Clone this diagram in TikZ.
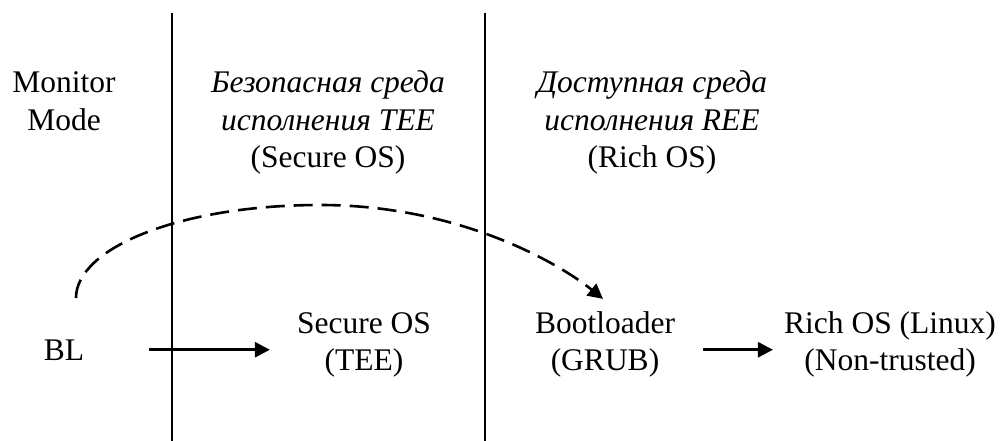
\documentclass[tikz,border=0pt]{standalone}
\usepackage{fontspec}
\setmainfont{Liberation Serif}
\usetikzlibrary{arrows.meta}
\begin{document}
\begin{tikzpicture}[x=1pt,y=-1pt,
  lbl/.style={anchor=base,inner sep=0pt,align=center,font=\fontsize{31.5}{37}\selectfont},
  sep/.style={line width=2pt},
  arr/.style={line width=2.8pt,-{Triangle[length=15pt,width=15pt]}},
  darr/.style={line width=2.6pt,dash pattern=on 19pt off 9pt,-{Triangle[length=15pt,width=15pt]}}]
\useasboundingbox (0,0) rectangle (1003,441);
% separators
\draw[sep] (172,13) -- (172,441);
\draw[sep] (485,13) -- (485,441);
% headers (base = baseline of last line)
\node[lbl] (mon) at (64,130) {Monitor\\Mode};
\node[lbl] (tee) at (328,167) {\itshape Безопасная среда\\\itshape исполнения TEE\\(Secure OS)};
\node[lbl] (ree) at (652,167) {\itshape Доступная среда\\\itshape исполнения REE\\(Rich OS)};
% stages
\node[lbl] (bl) at (64,360) {BL};
\node[lbl] (secos) at (364,370) {Secure OS\\(TEE)};
\node[lbl] (boot) at (605,370) {Bootloader\\(GRUB)};
\node[lbl] (rich) at (890,370) {Rich OS (Linux)\\(Non-trusted)};
% arrows
\draw[arr,shorten <=65pt,shorten >=27pt] (bl.east) -- (secos.west |- bl.east);
\draw[arr,shorten <=28pt,shorten >=11pt] (boot.east |- bl.east) -- (rich.west |- bl.east);
\coordinate (ds) at (76,298);
\draw[darr] (ds) .. controls (76,248) and (180,205) .. (320,205)
  .. controls (460,205) and (560,264) .. ([shift={(-2,-12)}]boot.north);
\end{tikzpicture}
\end{document}
